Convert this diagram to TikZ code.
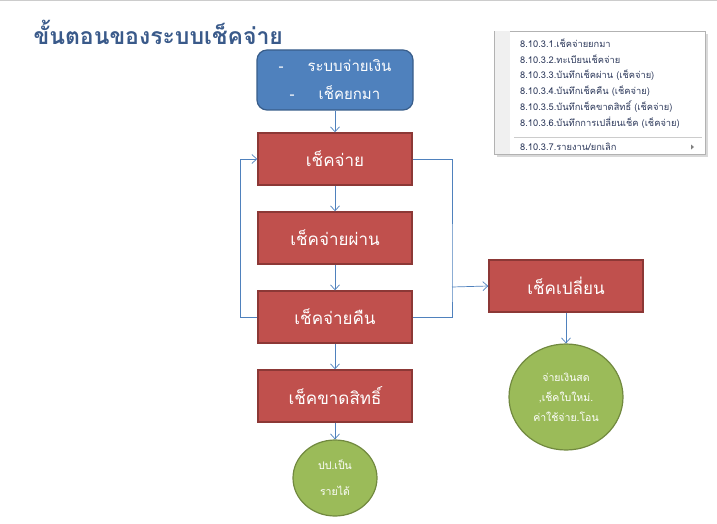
\documentclass[tikz,border=0pt]{standalone}
\usepackage{fontspec}
\newfontfamily\thai[Script=Thai]{Loma}
\usetikzlibrary{arrows.meta,positioning,shapes.geometric}

\definecolor{titleblue}{HTML}{3A5A8A}
\definecolor{srcfill}{HTML}{4F81BD}
\definecolor{srcline}{HTML}{385D8A}
\definecolor{chkfill}{HTML}{C0504D}
\definecolor{chkline}{HTML}{8C3836}
\definecolor{endfill}{HTML}{9BBB59}
\definecolor{endline}{HTML}{71893F}
\definecolor{menutext}{HTML}{2E3A5C}

\tikzset{
  source/.style={draw=srcline, fill=srcfill, line width=1.2pt, rounded corners=10pt,
    minimum width=156pt, minimum height=60pt, text=white, align=center, font=\thai\fontsize{15}{28}\selectfont},
  check/.style={draw=chkline, fill=chkfill, line width=1.4pt,
    minimum width=154pt, minimum height=52pt, text=white, font=\thai\fontsize{17}{20}\selectfont},
  result/.style={ellipse, draw=endline, fill=endfill, line width=1.2pt, text=white,
    align=center, inner sep=0pt, font=\thai\fontsize{10.5}{20}\selectfont},
  item/.style={anchor=west, text=menutext, inner sep=0pt, font=\thai\fontsize{9.3}{10}\selectfont},
  link/.style={draw=srcfill, line width=0.7pt}
}

\begin{document}
\begin{tikzpicture}[x=1pt, y=-1pt, >={Straight Barb[length=5pt,width=9pt]}, node distance=79pt]
  \useasboundingbox (0,0) rectangle (717,524);
  \draw[gray!40, line width=1pt] (0,0.5) -- (717,0.5);

  % title
  \node[anchor=west, text=titleblue, font=\thai\bfseries\fontsize{23}{26}\selectfont] (Title) at (30,32) {ขั้นตอนของระบบเช็คจ่าย};

  % flow
  \node[source]            (Src)                  at (335,80) {-\hspace{24pt}ระบบจ่ายเงิน\\-\hspace{24pt}เช็คยกมา};
  \node[check]             (Pay)  [below of=Src]  {เช็คจ่าย};
  \node[check]             (Pass) [below of=Pay]  {เช็คจ่ายผ่าน};
  \node[check]             (Ret)  [below of=Pass] {เช็คจ่ายคืน};
  \node[check]             (Void) [below of=Ret]  {เช็คขาดสิทธิ์};
  \node[result, minimum width=84pt, minimum height=76pt, font=\thai\fontsize{10.5}{26}\selectfont] (Income) [below of=Void, node distance=82pt] {ปป.เป็น\\รายได้};
  \node[check]             (Swap)                 at (566,286) {เช็คเปลี่ยน};
  \node[result, minimum width=114pt, minimum height=106pt] (Renew) [below of=Swap, node distance=111pt] {จ่ายเงินสด\\,เช็คใบใหม่.\\ค่าใช้จ่าย.โอน};
  \coordinate (Bus) at (452,287);

  \path[link] (Src)  edge[->] (Pay)
              (Pay)  edge[->] (Pass)
              (Pass) edge[->] (Ret)
              (Ret)  edge[->] (Void)
              (Void) edge[->] (Income)
              (Swap) edge[->] (Renew);
  \draw[link, ->] (Ret.west) -- ++(-17,0) |- (Pay.west);
  \draw[link] (Pay.east) -| (Bus) |- (Ret.east);
  \draw[link, ->] (Bus) -- (Swap.west);

  % menu
  \fill[black!15] (497,34) rectangle (708,157);
  \draw[gray!60, fill=white] (494,31) rectangle (705,154);
  \fill[black!6] (494.5,31.5) rectangle (510,153.5);
  \draw[black!20] (514,137) -- (702,137);
  \node[item] (M1) at (520,43)  {8.10.3.1.เช็คจ่ายยกมา};
  \node[item] (M2) at (520,59)  {8.10.3.2.ทะเบียนเช็คจ่าย};
  \node[item] (M3) at (520,75)  {8.10.3.3.บันทึกเช็คผ่าน (เช็คจ่าย)};
  \node[item] (M4) at (520,91)  {8.10.3.4.บันทึกเช็คคืน (เช็คจ่าย)};
  \node[item] (M5) at (520,107) {8.10.3.5.บันทึกเช็คขาดสิทธิ์ (เช็คจ่าย)};
  \node[item] (M6) at (520,123) {8.10.3.6.บันทึกการเปลี่ยนเช็ค (เช็คจ่าย)};
  \node[item] (M7) at (520,147) {8.10.3.7.รายงาน/ยกเลิก};
  \fill[gray] (691,144.5) -- (694,147) -- (691,149.5) -- cycle;
\end{tikzpicture}
\end{document}
